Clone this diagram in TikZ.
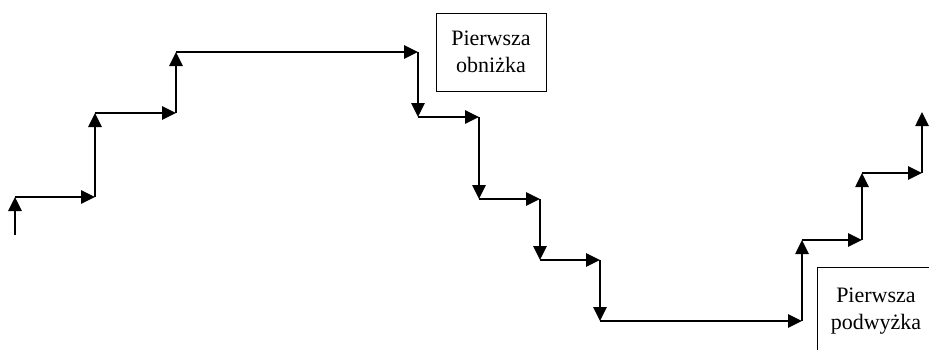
\documentclass[tikz,border=0pt]{standalone}
\usepackage{fontspec}
\setmainfont{Liberation Serif}
\usetikzlibrary{arrows.meta}
\begin{document}
\begin{tikzpicture}[x=1pt,y=-1pt,font=\fontsize{22}{27}\selectfont,
  stair/.style={line width=2.6pt,-{Triangle[length=14pt,width=13pt]}},
  callout/.style={draw,line width=0.9pt,align=center}]
  \useasboundingbox (0,0) rectangle (929,349);
  % corners of the steps: index, x, y (y downwards)
  \foreach \n/\x/\y in {
    0/15/235, 1/15/197, 2/95/197, 3/95/113, 4/176/113, 5/176/52,
    6/418/52, 7/418/117, 8/479/117, 9/479/199, 10/540/199,
    11/540/260, 12/600/260, 13/600/321, 14/802/321, 15/802/240,
    16/862/240, 17/862/173, 18/922/173, 19/922/112}{
    \coordinate (s\n) at (\x,\y);
  }
  % one arrow per step
  \foreach \a [evaluate=\a as \b using int(\a+1)] in {0,...,18}
    \draw[stair] (s\a) -- (s\b);
  % labels
  \node[callout,minimum width=110pt,minimum height=78pt] (cut) at (491,52) {Pierwsza\\obniżka};
  \node[callout,anchor=north west,minimum width=117pt,inner ysep=20pt] (rise) at (817,267) {Pierwsza\\podwyżka};
\end{tikzpicture}
\end{document}
